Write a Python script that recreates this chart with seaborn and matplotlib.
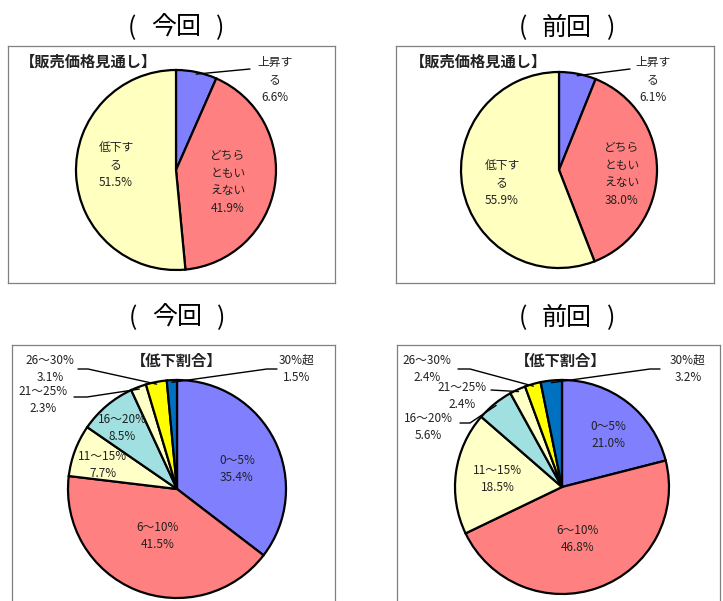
import numpy as np
import matplotlib
matplotlib.use("Agg")
import matplotlib.pyplot as plt
import seaborn as sns

sns.set_theme(style="white")
plt.rcParams['font.family'] = ['Noto Sans CJK JP', 'DejaVu Sans']

# price outlook (top row)
outlook_cats = ["上昇する", "どちらともいえない", "低下する"]
outlook_labels = ["上昇す\nる", "どちら\nともい\nえない", "低下す\nる"]
outlook_now = [6.6, 41.9, 51.5]
outlook_prev = [6.1, 38.0, 55.9]
outlook_colors = ["#8080FF", "#FF8080", "#FFFFC0"]

# rate of decrease (bottom row)
drop_cats = ["0～5%", "6～10%", "11～15%", "16～20%", "21～25%", "26～30%", "30%超"]
drop_now = [35.4, 41.5, 7.7, 8.5, 2.3, 3.1, 1.5]
drop_prev = [21.0, 46.8, 18.5, 5.6, 2.4, 2.4, 3.2]
drop_colors = ["#8080FF", "#FF8080", "#FFFFC8", "#A0E0E0", "#FFFFC8", "#FFFF00", "#0070C0"]

W, H = 723, 601
fig = plt.figure(figsize=(W / 100, H / 100), dpi=100)


def panel(box, center, r):
    x0, y0, x1, y1 = box
    cx, cy = center
    ax = fig.add_axes([x0 / W, 1 - y1 / H, (x1 - x0) / W, (y1 - y0) / H])
    ax.set_xlim((x0 - cx) / r, (x1 - cx) / r)
    ax.set_ylim((cy - y1) / r, (cy - y0) / r)
    ax.set_aspect('auto')
    ax.set_xticks([])
    ax.set_yticks([])
    for s in ax.spines.values():
        s.set_color("#808080")
        s.set_linewidth(0.9)
    # px -> data helper
    conv = lambda px, py: ((px - cx) / r, (cy - py) / r)
    return ax, conv


def draw_pie(ax, vals, colors):
    wedges, _ = ax.pie(vals, colors=colors, startangle=90, counterclock=False,
                       radius=1, frame=True,
                       wedgeprops=dict(edgecolor="black", linewidth=1.6))
    ax.set_aspect('auto')
    return wedges


def edge_pt(w, frac=1.0):
    a = np.deg2rad((w.theta1 + w.theta2) / 2)
    return np.cos(a) * frac, np.sin(a) * frac


def txt(ax, conv, px, py, s, size=8.5, **kw):
    x, y = conv(px, py)
    ax.text(x, y, s, ha="center", va="center", fontsize=size, color="#222222",
            linespacing=1.45, **kw)


def leader(ax, conv, w, pts, frac=1.0):
    x, y = edge_pt(w, frac)
    xs, ys = [x], [y]
    for px, py in pts:
        a, b = conv(px, py)
        xs.append(a)
        ys.append(b)
    ax.plot(xs, ys, color="black", lw=1.0, clip_on=False)


# titles: "(" 今回 ")" spaced out like the original
for (tx, ty, t) in [(176, 28, "今回"), (567, 28, "前回"),
                    (177, 318, "今回"), (567, 318, "前回")]:
    fig.text(tx / W, 1 - ty / H, t, ha="center", va="center", fontsize=18, color="black")
    fig.text((tx - 44) / W, 1 - ty / H, "(", ha="center", va="center", fontsize=18, color="black")
    fig.text((tx + 44) / W, 1 - ty / H, ")", ha="center", va="center", fontsize=18, color="black")

# --- top left
ax, cv = panel((8, 46, 335, 283), (176, 170), 100)
w = draw_pie(ax, outlook_now, outlook_colors)
txt(ax, cv, 89, 62, "【販売価格見通し】", size=11, fontweight="bold")
leader(ax, cv, w[0], [(250, 69)], 0.98)
txt(ax, cv, 275, 80, outlook_labels[0] + "\n" + f"{outlook_now[0]:.1f}%")
txt(ax, cv, 228, 182, outlook_labels[1] + "\n" + f"{outlook_now[1]:.1f}%")
txt(ax, cv, 116, 165, outlook_labels[2] + "\n" + f"{outlook_now[2]:.1f}%")

# --- top right
ax, cv = panel((396, 46, 714, 283), (559, 170), 98)
w = draw_pie(ax, outlook_prev, outlook_colors)
txt(ax, cv, 478, 62, "【販売価格見通し】", size=11, fontweight="bold")
leader(ax, cv, w[0], [(630, 69)], 0.98)
txt(ax, cv, 653, 80, outlook_labels[0] + "\n" + f"{outlook_prev[0]:.1f}%")
txt(ax, cv, 622, 174, outlook_labels[1] + "\n" + f"{outlook_prev[1]:.1f}%")
txt(ax, cv, 502, 183, outlook_labels[2] + "\n" + f"{outlook_prev[2]:.1f}%")

# --- bottom left
ax, cv = panel((12, 345, 335, 615), (177, 489), 109)
w = draw_pie(ax, drop_now, drop_colors)
txt(ax, cv, 177, 361, "【低下割合】", size=11, fontweight="bold")
lab = [f"{c}\n{v:.1f}%" for c, v in zip(drop_cats, drop_now)]
txt(ax, cv, 237, 469, lab[0])
txt(ax, cv, 158, 536, lab[1])
txt(ax, cv, 103, 465, lab[2])
txt(ax, cv, 122, 428, lab[3])
txt(ax, cv, 43, 400, lab[4])
txt(ax, cv, 50, 369, lab[5])
txt(ax, cv, 297, 369, lab[6])
leader(ax, cv, w[6], [(267, 369), (277, 369)], 0.98)
leader(ax, cv, w[5], [(88, 369), (78, 369)], 0.98)
leader(ax, cv, w[4], [(87, 397), (74, 397)], 0.98)

# --- bottom right
ax, cv = panel((397, 345, 720, 615), (562, 487), 107)
w = draw_pie(ax, drop_prev, drop_colors)
txt(ax, cv, 561, 361, "【低下割合】", size=11, fontweight="bold")
lab = [f"{c}\n{v:.1f}%" for c, v in zip(drop_cats, drop_prev)]
txt(ax, cv, 608, 435, lab[0])
txt(ax, cv, 578, 539, lab[1])
txt(ax, cv, 498, 479, lab[2])
txt(ax, cv, 428, 427, lab[3])
txt(ax, cv, 462, 396, lab[4])
txt(ax, cv, 427, 369, lab[5])
txt(ax, cv, 688, 369, lab[6])
leader(ax, cv, w[6], [(650, 369), (660, 369)], 0.98)
leader(ax, cv, w[5], [(470, 369), (458, 369)], 0.98)
leader(ax, cv, w[4], [(491, 390)], 0.98)
leader(ax, cv, w[3], [(470, 423), (460, 423)], 0.98)

fig.savefig("out.png", dpi=100, facecolor="white")
